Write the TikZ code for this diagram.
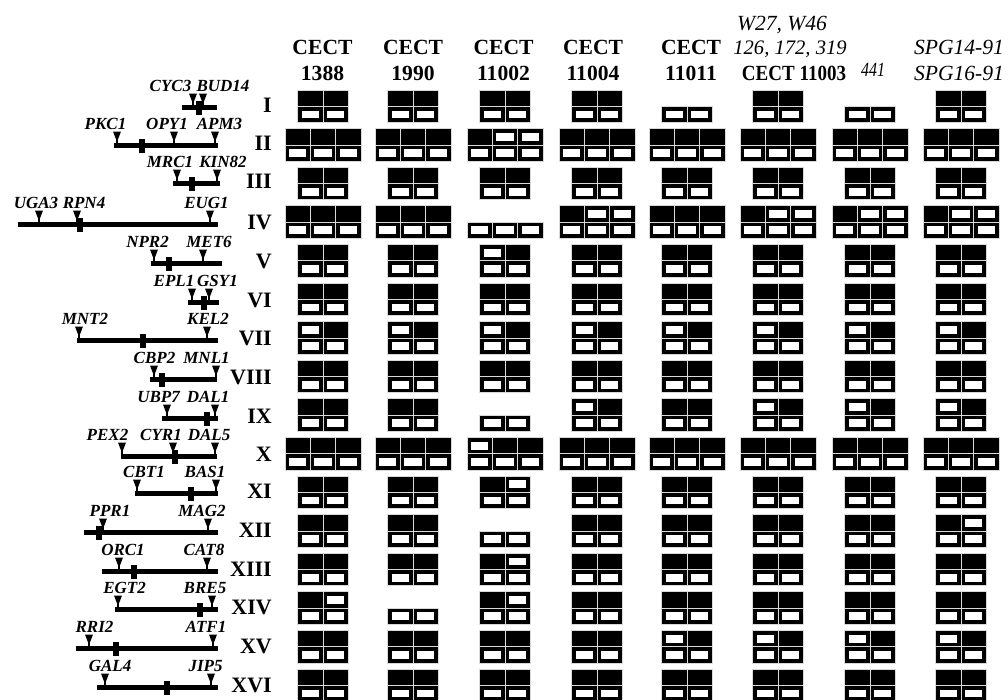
\documentclass[tikz,border=0pt]{standalone}
\usepackage{fontspec}
\setmainfont{Liberation Serif}
\begin{document}
\begin{tikzpicture}[x=1pt,y=-1pt,
  hdr/.style={font=\bfseries\fontsize{21.6}{24}\selectfont, inner sep=0pt, anchor=base},
  hdri/.style={font=\itshape\fontsize{21.6}{24}\selectfont, inner sep=0pt, anchor=base},
  roman/.style={font=\bfseries\fontsize{22}{24}\selectfont, inner sep=0pt, anchor=east},
  gene/.style={font=\bfseries\itshape\fontsize{17}{19}\selectfont, inner sep=0pt, anchor=base},
  chrom/.style={line width=5pt},
  cellbox/.style={fill=black, draw=gray!30, line width=0.7pt},
  hole/.style={fill=white},
  tick/.style={line width=1.6pt}]
\useasboundingbox (0,0) rectangle (1008,699);
\clip (0,0) rectangle (1008,699);

% ---------- header ----------
\node[hdr] (h1a) at (322.5,54) {CECT};  \node[hdr] (h1b) at (322.5,80) {1388};
\node[hdr] (h2a) at (413,54) {CECT};    \node[hdr] (h2b) at (413,80) {1990};
\node[hdr] (h3a) at (503.5,54) {CECT};  \node[hdr] (h3b) at (503.5,80) {11002};
\node[hdr] (h4a) at (593,54) {CECT};    \node[hdr] (h4b) at (593,80) {11004};
\node[hdr] (h5a) at (691,54) {CECT};    \node[hdr] (h5b) at (691,80) {11011};
\node[hdri] (h6a) at (782,30) {W27, W46};
\node[hdri, font=\itshape\fontsize{20.6}{24}\selectfont] (h6b) at (790,54) {126, 172, 319};
\node[hdr] (h6c) at (794,80) {\scalebox{0.88}[1]{CECT 11003}};
\node[hdri, font=\itshape\fontsize{20}{22}\selectfont] (h7a) at (873,76) {\scalebox{0.8}[1]{441}};
\node[hdri] (h8a) at (959,54) {SPG14-91};
\node[hdri] (h8b) at (959,80) {SPG16-91};

% ---------- karyotype cells ----------
\def\colx{{323,413,505,597,687,778,870,961}}
\foreach \ri/\nc/\pats in {
 1/2/{{1,1},{1,1},{1,1},{1,1},{2,2},{1,1},{2,2},{1,1}},
 2/3/{{1,1,1},{1,1,1},{1,0,0},{1,1,1},{1,1,1},{1,1,1},{1,1,1},{1,1,1}},
 3/2/{{1,1},{1,1},{1,1},{1,1},{1,1},{1,1},{1,1},{1,1}},
 4/3/{{1,1,1},{1,1,1},{2,2,2},{1,0,0},{1,1,1},{1,0,0},{1,0,0},{1,0,0}},
 5/2/{{1,1},{1,1},{0,1},{1,1},{1,1},{1,1},{1,1},{1,1}},
 6/2/{{1,1},{1,1},{1,1},{1,1},{1,1},{1,1},{1,1},{1,1}},
 7/2/{{0,1},{0,1},{0,1},{0,1},{0,1},{0,1},{0,1},{0,1}},
 8/2/{{1,1},{1,1},{1,1},{1,1},{1,1},{1,1},{1,1},{1,1}},
 9/2/{{1,1},{1,1},{2,2},{0,1},{1,1},{0,1},{0,1},{0,1}},
 10/3/{{1,1,1},{1,1,1},{0,1,1},{1,1,1},{1,1,1},{1,1,1},{1,1,1},{1,1,1}},
 11/2/{{1,1},{1,1},{1,0},{1,1},{1,1},{1,1},{1,1},{1,1}},
 12/2/{{1,1},{1,1},{2,2},{1,1},{1,1},{1,1},{1,1},{1,0}},
 13/2/{{1,1},{1,1},{1,0},{1,1},{1,1},{1,1},{1,1},{1,1}},
 14/2/{{1,0},{2,2},{1,0},{1,1},{1,1},{1,1},{1,1},{1,1}},
 15/2/{{1,1},{1,1},{1,1},{1,1},{0,1},{0,1},{0,1},{0,1}},
 16/2/{{1,1},{1,1},{1,1},{1,1},{1,1},{1,1},{1,1},{1,1}}}{
  \pgfmathsetmacro\yt{90+38.6*(\ri-1)}
  \foreach \pp [count=\cc] in \pats {
    \pgfmathsetmacro\cx{\colx[\cc-1]}
    \foreach \tp [count=\kk] in \pp {
      \pgfmathsetmacro\xl{\cx-\nc*12.65+(\kk-1)*25.3}
      \path[cellbox] (\xl,\yt+16.3) rectangle ++(25.3,16.3);
      \path[hole] (\xl+4,\yt+20.6) rectangle ++(17.3,7.8);
      \ifnum\tp=1 \path[cellbox] (\xl,\yt) rectangle ++(25.3,16.3);\fi
      \ifnum\tp=0 \path[cellbox] (\xl,\yt) rectangle ++(25.3,16.3);
        \path[hole] (\xl+4,\yt+4.3) rectangle ++(17.3,7.8);\fi
    }
  }
}

% ---------- chromosome maps ----------
\foreach \ri/\ly/\xa/\xb/\cen/\arr/\rn in {
 1/107/182/217/199/{193,203}/I,
 2/145/114/218/142/{117,174,215}/II,
 3/183/173/220/192/{177,217}/III,
 4/224/18/218/80/{39,77,210}/IV,
 5/263/151/222/169/{154,203}/V,
 6/302/188/219/204/{192,209}/VI,
 7/340/77/218/143/{79,207}/VII,
 8/379/150/217/162/{154,216}/VIII,
 9/418/162/218/207/{167,215}/IX,
 10/456/121/217/175/{122,173,215}/X,
 11/493/135/218/191/{137,216}/XI,
 12/532/84/218/99/{103,208}/XII,
 13/571/102/218/134/{119,207}/XIII,
 14/609/115/218/200/{118,212}/XIV,
 15/648/76/218/116/{89,213}/XV,
 16/687/97/218/167/{105,211}/XVI}{
  \draw[chrom] (\xa,\ly) -- (\xb,\ly);
  \fill (\cen-3.2,\ly-6.5) rectangle (\cen+3.2,\ly+7.5);
  \foreach \aa in \arr {
    \fill (\aa-4,\ly-13.5) -- (\aa+4,\ly-13.5) -- (\aa,\ly-3) -- cycle;
    \draw[tick] (\aa,\ly-6) -- (\aa,\ly);
  }
  \node[roman] (r\ri) at (272,\ly-2) {\rn};
}

% ---------- gene labels ----------
\node[gene] (gCYC3) at (170.5,91.5) {CYC3};
\node[gene] (gBUD14) at (223,91.5) {BUD14};
\node[gene] (gPKC1) at (105.5,129.5) {PKC1};
\node[gene] (gOPY1) at (167,129.5) {OPY1};
\node[gene] (gAPM3) at (219.5,129.5) {APM3};
\node[gene] (gMRC1) at (170,167.5) {MRC1};
\node[gene] (gKIN82) at (223,167.5) {KIN82};
\node[gene] (gUGA3) at (36,208.5) {UGA3};
\node[gene] (gRPN4) at (84,208.5) {RPN4};
\node[gene] (gEUG1) at (206.5,208.5) {EUG1};
\node[gene] (gNPR2) at (147.5,247.5) {NPR2};
\node[gene] (gMET6) at (209,247.5) {MET6};
\node[gene] (gEPL1) at (174,286.5) {EPL1};
\node[gene] (gGSY1) at (217.5,286.5) {GSY1};
\node[gene] (gMNT2) at (85,324.5) {MNT2};
\node[gene] (gKEL2) at (208,324.5) {KEL2};
\node[gene] (gCBP2) at (154.5,363.5) {CBP2};
\node[gene] (gMNL1) at (206.5,363.5) {MNL1};
\node[gene] (gUBP7) at (158.5,402.5) {UBP7};
\node[gene] (gDAL1) at (208,402.5) {DAL1};
\node[gene] (gPEX2) at (107.5,440.5) {PEX2};
\node[gene] (gCYR1) at (161,440.5) {CYR1};
\node[gene] (gDAL5) at (209,440.5) {DAL5};
\node[gene] (gCBT1) at (144,477.5) {CBT1};
\node[gene] (gBAS1) at (205,477.5) {BAS1};
\node[gene] (gPPR1) at (110,516.5) {PPR1};
\node[gene] (gMAG2) at (202,516.5) {MAG2};
\node[gene] (gORC1) at (123,555.5) {ORC1};
\node[gene] (gCAT8) at (204,555.5) {CAT8};
\node[gene] (gEGT2) at (124.5,593.5) {EGT2};
\node[gene] (gBRE5) at (205,593.5) {BRE5};
\node[gene] (gRRI2) at (94.5,632.5) {RRI2};
\node[gene] (gATF1) at (206,632.5) {ATF1};
\node[gene] (gGAL4) at (110,671.5) {GAL4};
\node[gene] (gJIP5) at (205.5,671.5) {JIP5};
\end{tikzpicture}
\end{document}
